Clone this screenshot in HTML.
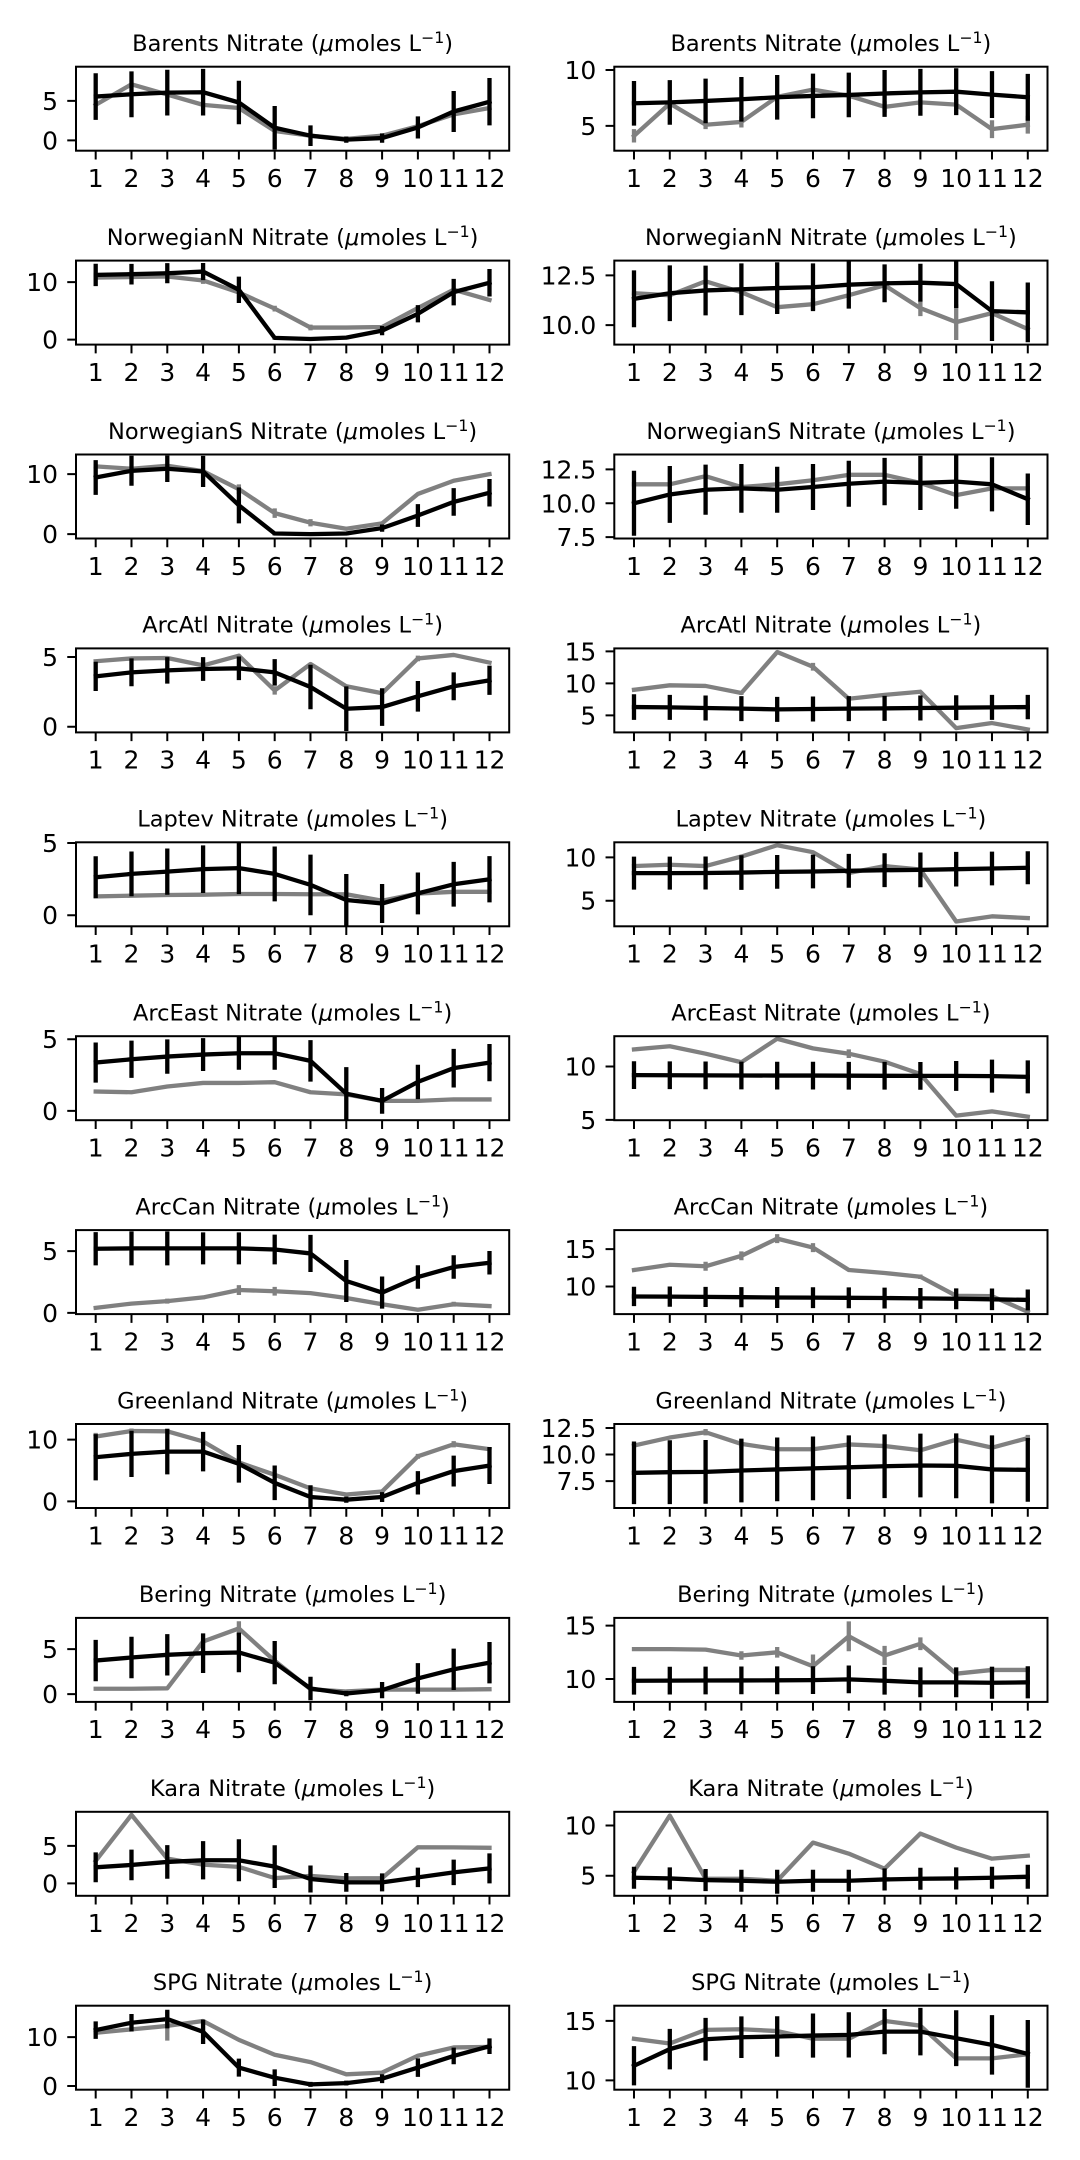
<!DOCTYPE html>
<html><head><meta charset="utf-8"><style>
html,body{margin:0;padding:0;background:#fff}
svg{display:block}
.t{font-family:"DejaVu Sans","Liberation Sans",sans-serif;font-size:25px;fill:#000}
.h{font-family:"DejaVu Sans","Liberation Sans",sans-serif;font-size:22.5px;fill:#000;text-anchor:middle}
.c{text-anchor:middle}.e{text-anchor:end}
.s{font-size:15.75px}
.g,.k,.ge,.ke{fill:none;vector-effect:non-scaling-stroke;stroke-width:4.3}
.g{stroke:#808080;stroke-linejoin:round;stroke-linecap:square}
.k{stroke:#000;stroke-linejoin:round;stroke-linecap:square}
.ge{stroke:#808080;stroke-linecap:butt}
.ke{stroke:#000;stroke-linecap:butt}
.ax{fill:none;stroke:#000;stroke-width:2}
.tk{fill:none;stroke:#000;stroke-width:2}
</style></head><body>
<svg width="1080" height="2160" viewBox="0 0 1080 2160" xmlns="http://www.w3.org/2000/svg">
<rect width="1080" height="2160" fill="#fff"/>
<defs>
<path id="xt" class="tk" d="M95.69 0v8.75M131.49 0v8.75M167.29 0v8.75M203.09 0v8.75M238.89 0v8.75M274.69 0v8.75M310.49 0v8.75M346.29 0v8.75M382.09 0v8.75M417.89 0v8.75M453.69 0v8.75M489.49 0v8.75"/>
</defs>

<!-- ROW 0 Barents -->
<text class="h" x="292.6" y="51">Barents Nitrate (<tspan font-style="italic">μ</tspan>moles L<tspan class="s" dy="-8">−1</tspan><tspan dy="8">)</tspan></text>
<svg x="76" y="66.7" width="433.2" height="84"><g transform="translate(-16.11 73.73) scale(35.8 -7.902)">
<polyline class="g" points="1,4.5 2,7.1 3,5.8 4,4.5 5,4.1 6,1.2 7,0.6 8,0.2 9,0.6 10,1.8 11,3.3 12,4.1"/>
<polyline class="k" points="1,5.55 2,5.84 3,6.05 4,6.1 5,4.8 6,1.6 7,0.6 8,0.1 9,0.3 10,1.64 11,3.66 12,4.9"/>
<path class="ke" d="M1 5.55v2.95m0-2.95v-2.95M2 5.84v2.9m0-2.9v-2.9M3 6.05v2.9m0-2.9v-2.9M4 6.1v2.95m0-2.95v-2.95M5 4.8v2.75m0-2.75v-2.75M6 1.6v2.75m0-2.75v-2.75M7 0.6v1.3m0-1.3v-1.3M8 0.1v0.4m0-0.4v-0.4M9 0.3v0.6m0-0.6v-0.6M10 1.64v1.4m0-1.4v-1.4M11 3.66v2.6m0-2.6v-2.6M12 4.9v3m0-3v-3"/>
</g></svg>
<rect class="ax" x="76" y="66.7" width="433.2" height="84"/>
<use href="#xt" y="150.7"/>
<path class="tk" d="M67.25 140.43h8.75M67.25 100.92h8.75"/>
<text class="t e" x="58" y="149.4">0</text><text class="t e" x="58" y="109.9">5</text>
<text class="t c" y="187"><tspan x="95.69">1</tspan><tspan x="131.49">2</tspan><tspan x="167.29">3</tspan><tspan x="203.09">4</tspan><tspan x="238.89">5</tspan><tspan x="274.69">6</tspan><tspan x="310.49">7</tspan><tspan x="346.29">8</tspan><tspan x="382.09">9</tspan><tspan x="417.89">10</tspan><tspan x="453.69">11</tspan><tspan x="489.49">12</tspan></text>

<text class="h" x="830.9" y="51">Barents Nitrate (<tspan font-style="italic">μ</tspan>moles L<tspan class="s" dy="-8">−1</tspan><tspan dy="8">)</tspan></text>
<svg x="614.3" y="66.7" width="433.2" height="84"><g transform="translate(-16.11 114.9) scale(35.8 -11.155)">
<polyline class="g" points="1,4.1 2,7.0 3,5.1 4,5.35 5,7.6 6,8.25 7,7.7 8,6.7 9,7.1 10,6.9 11,4.7 12,5.1"/>
<polyline class="k" points="1,7.02 2,7.1 3,7.23 4,7.38 5,7.56 6,7.68 7,7.77 8,7.9 9,8.0 10,8.06 11,7.8 12,7.56"/>
<path class="ge" d="M1 4.1v0.6m0-0.6v-0.6M3 5.1v0.4m0-0.4v-0.4M4 5.35v0.5m0-0.5v-0.5M8 6.7v0.5m0-0.5v-0.5M9 7.1v0.3m0-0.3v-0.3M10 6.9v0.5m0-0.5v-0.5M11 4.7v0.8m0-0.8v-0.8M12 5.1v0.8m0-0.8v-0.8"/>
<path class="ke" d="M1 7.02v2m0-2v-2M2 7.1v2m0-2v-2M3 7.23v2m0-2v-2M4 7.38v2m0-2v-2M5 7.56v2m0-2v-2M6 7.68v2m0-2v-2M7 7.77v2m0-2v-2M8 7.9v2.1m0-2.1v-2.1M9 8.0v2.1m0-2.1v-2.1M10 8.06v2.1m0-2.1v-2.1M11 7.8v2.1m0-2.1v-2.1M12 7.56v2.1m0-2.1v-2.1"/>
</g></svg>
<rect class="ax" x="614.3" y="66.7" width="433.2" height="84"/>
<use href="#xt" x="538.3" y="150.7"/>
<path class="tk" d="M605.55 70.05h8.75M605.55 125.83h8.75"/>
<text class="t e" x="596.3" y="79.05">10</text><text class="t e" x="596.3" y="134.83">5</text>
<text class="t c" y="187"><tspan x="634">1</tspan><tspan x="669.8">2</tspan><tspan x="705.6">3</tspan><tspan x="741.4">4</tspan><tspan x="777.2">5</tspan><tspan x="813">6</tspan><tspan x="848.8">7</tspan><tspan x="884.6">8</tspan><tspan x="920.4">9</tspan><tspan x="956.2">10</tspan><tspan x="992">11</tspan><tspan x="1027.8">12</tspan></text>

<!-- ROW 1 NorwegianN -->
<text class="h" x="292.6" y="244.9">NorwegianN Nitrate (<tspan font-style="italic">μ</tspan>moles L<tspan class="s" dy="-8">−1</tspan><tspan dy="8">)</tspan></text>
<svg x="76" y="260.6" width="433.2" height="84"><g transform="translate(-16.11 79.0) scale(35.8 -5.742)">
<polyline class="g" points="1,10.8 2,10.9 3,11.0 4,10.3 5,8.2 6,5.4 7,2.1 8,2.1 9,2.2 10,5.5 11,8.7 12,6.9"/>
<polyline class="k" points="1,11.27 2,11.39 3,11.56 4,11.85 5,8.67 6,0.3 7,0.1 8,0.35 9,1.56 10,4.5 11,8.27 12,9.9"/>
<path class="ge" d="M4 10.3v0.6m0-0.6v-0.6M6 5.4v0.5m0-0.5v-0.5M7 2.1v0.5m0-0.5v-0.5"/>
<path class="ke" d="M1 11.27v1.95m0-1.95v-1.95M2 11.39v1.8m0-1.8v-1.8M3 11.56v1.75m0-1.75v-1.75M4 11.85v1.5m0-1.5v-1.5M5 8.67v2.3m0-2.3v-2.3M6 0.3v0.3m0-0.3v-0.3M7 0.1v0.2m0-0.2v-0.2M8 0.35v0.3m0-0.3v-0.3M9 1.56v0.8m0-0.8v-0.8M10 4.5v1.5m0-1.5v-1.5M11 8.27v2.3m0-2.3v-2.3M12 9.9v2.4m0-2.4v-2.4"/>
</g></svg>
<rect class="ax" x="76" y="260.6" width="433.2" height="84"/>
<use href="#xt" y="344.6"/>
<path class="tk" d="M67.25 339.6h8.75M67.25 282.18h8.75"/>
<text class="t e" x="58" y="348.6">0</text><text class="t e" x="58" y="291.18">10</text>
<text class="t c" y="380.9"><tspan x="95.69">1</tspan><tspan x="131.49">2</tspan><tspan x="167.29">3</tspan><tspan x="203.09">4</tspan><tspan x="238.89">5</tspan><tspan x="274.69">6</tspan><tspan x="310.49">7</tspan><tspan x="346.29">8</tspan><tspan x="382.09">9</tspan><tspan x="417.89">10</tspan><tspan x="453.69">11</tspan><tspan x="489.49">12</tspan></text>

<text class="h" x="830.9" y="244.9">NorwegianN Nitrate (<tspan font-style="italic">μ</tspan>moles L<tspan class="s" dy="-8">−1</tspan><tspan dy="8">)</tspan></text>
<svg x="614.3" y="260.6" width="433.2" height="84"><g transform="translate(-16.11 263.54) scale(35.8 -19.905)">
<polyline class="g" points="1,11.6 2,11.5 3,12.2 4,11.65 5,10.9 6,11.05 7,11.5 8,12.0 9,10.85 10,10.15 11,10.6 12,9.8"/>
<polyline class="k" points="1,11.32 2,11.6 3,11.74 4,11.8 5,11.86 6,11.9 7,12.03 8,12.1 9,12.13 10,12.06 11,10.7 12,10.64"/>
<path class="ge" d="M5 10.9v0.3m0-0.3v-0.3M6 11.05v0.3m0-0.3v-0.3M9 10.85v0.4m0-0.4v-0.4M10 10.15v0.9m0-0.9v-0.9"/>
<path class="ke" d="M1 11.32v1.43m0-1.43v-1.43M2 11.6v1.4m0-1.4v-1.4M3 11.74v1.25m0-1.25v-1.25M4 11.8v1.3m0-1.3v-1.3M5 11.86v1.3m0-1.3v-1.3M6 11.9v1.2m0-1.2v-1.2M7 12.03v1.2m0-1.2v-1.2M8 12.1v0.95m0-0.95v-0.95M9 12.13v0.95m0-0.95v-0.95M10 12.06v1.2m0-1.2v-1.2M11 10.7v1.5m0-1.5v-1.5M12 10.64v1.5m0-1.5v-1.5"/>
</g></svg>
<rect class="ax" x="614.3" y="260.6" width="433.2" height="84"/>
<use href="#xt" x="538.3" y="344.6"/>
<path class="tk" d="M605.55 275.33h8.75M605.55 325.09h8.75"/>
<text class="t e" x="596.3" y="284.33">12.5</text><text class="t e" x="596.3" y="334.09">10.0</text>
<text class="t c" y="380.9"><tspan x="634">1</tspan><tspan x="669.8">2</tspan><tspan x="705.6">3</tspan><tspan x="741.4">4</tspan><tspan x="777.2">5</tspan><tspan x="813">6</tspan><tspan x="848.8">7</tspan><tspan x="884.6">8</tspan><tspan x="920.4">9</tspan><tspan x="956.2">10</tspan><tspan x="992">11</tspan><tspan x="1027.8">12</tspan></text>

<!-- ROW 2 NorwegianS -->
<text class="h" x="292.6" y="438.8">NorwegianS Nitrate (<tspan font-style="italic">μ</tspan>moles L<tspan class="s" dy="-8">−1</tspan><tspan dy="8">)</tspan></text>
<svg x="76" y="454.5" width="433.2" height="84"><g transform="translate(-16.11 79.62) scale(35.8 -5.996)">
<polyline class="g" points="1,11.3 2,10.9 3,11.4 4,10.5 5,7.5 6,3.5 7,1.9 8,0.9 9,1.8 10,6.7 11,8.9 12,10.0"/>
<polyline class="k" points="1,9.44 2,10.56 3,10.9 4,10.45 5,4.8 6,0.1 7,0 8,0.1 9,1.0 10,3.1 11,5.37 12,6.9"/>
<path class="ge" d="M5 7.5v0.8m0-0.8v-0.8M6 3.5v0.8m0-0.8v-0.8M7 1.9v0.6m0-0.6v-0.6"/>
<path class="ke" d="M1 9.44v2.9m0-2.9v-2.9M2 10.56v2.5m0-2.5v-2.5M3 10.9v2.2m0-2.2v-2.2M4 10.45v2.6m0-2.6v-2.6M5 4.8v3m0-3v-3M6 0.1v0.3m0-0.3v-0.3M7 0v0.3m0-0.3v-0.3M8 0.1v0.3m0-0.3v-0.3M9 1.0v0.6m0-0.6v-0.6M10 3.1v1.9m0-1.9v-1.9M11 5.37v2.3m0-2.3v-2.3M12 6.9v2.3m0-2.3v-2.3"/>
</g></svg>
<rect class="ax" x="76" y="454.5" width="433.2" height="84"/>
<use href="#xt" y="538.5"/>
<path class="tk" d="M67.25 534.12h8.75M67.25 474.16h8.75"/>
<text class="t e" x="58" y="543.12">0</text><text class="t e" x="58" y="483.16">10</text>
<text class="t c" y="574.8"><tspan x="95.69">1</tspan><tspan x="131.49">2</tspan><tspan x="167.29">3</tspan><tspan x="203.09">4</tspan><tspan x="238.89">5</tspan><tspan x="274.69">6</tspan><tspan x="310.49">7</tspan><tspan x="346.29">8</tspan><tspan x="382.09">9</tspan><tspan x="417.89">10</tspan><tspan x="453.69">11</tspan><tspan x="489.49">12</tspan></text>

<text class="h" x="830.9" y="438.8">NorwegianS Nitrate (<tspan font-style="italic">μ</tspan>moles L<tspan class="s" dy="-8">−1</tspan><tspan dy="8">)</tspan></text>
<svg x="614.3" y="454.5" width="433.2" height="84"><g transform="translate(-16.11 184.26) scale(35.8 -13.548)">
<polyline class="g" points="1,11.4 2,11.4 3,12.0 4,11.2 5,11.4 6,11.7 7,12.1 8,12.1 9,11.5 10,10.6 11,11.1 12,11.1"/>
<polyline class="k" points="1,10.0 2,10.65 3,11.0 4,11.1 5,11.0 6,11.2 7,11.44 8,11.6 9,11.5 10,11.6 11,11.4 12,10.3"/>
<path class="ke" d="M1 10.0v2.4m0-2.4v-2.4M2 10.65v2.1m0-2.1v-2.1M3 11.0v1.85m0-1.85v-1.85M4 11.1v1.8m0-1.8v-1.8M5 11.0v1.7m0-1.7v-1.7M6 11.2v1.7m0-1.7v-1.7M7 11.44v1.7m0-1.7v-1.7M8 11.6v1.75m0-1.75v-1.75M9 11.5v2m0-2v-2M10 11.6v2m0-2v-2M11 11.4v2m0-2v-2M12 10.3v1.9m0-1.9v-1.9"/>
</g></svg>
<rect class="ax" x="614.3" y="454.5" width="433.2" height="84"/>
<use href="#xt" x="538.3" y="538.5"/>
<path class="tk" d="M605.55 469.41h8.75M605.55 503.28h8.75M605.55 537.15h8.75"/>
<text class="t e" x="596.3" y="478.41">12.5</text><text class="t e" x="596.3" y="512.28">10.0</text><text class="t e" x="596.3" y="546.15">7.5</text>
<text class="t c" y="574.8"><tspan x="634">1</tspan><tspan x="669.8">2</tspan><tspan x="705.6">3</tspan><tspan x="741.4">4</tspan><tspan x="777.2">5</tspan><tspan x="813">6</tspan><tspan x="848.8">7</tspan><tspan x="884.6">8</tspan><tspan x="920.4">9</tspan><tspan x="956.2">10</tspan><tspan x="992">11</tspan><tspan x="1027.8">12</tspan></text>

<!-- ROW 3 ArcAtl -->
<text class="h" x="292.6" y="632.7">ArcAtl Nitrate (<tspan font-style="italic">μ</tspan>moles L<tspan class="s" dy="-8">−1</tspan><tspan dy="8">)</tspan></text>
<svg x="76" y="648.4" width="433.2" height="84"><g transform="translate(-16.11 78.29) scale(35.8 -13.93)">
<polyline class="g" points="1,4.7 2,4.9 3,4.93 4,4.4 5,5.1 6,2.6 7,4.5 8,2.9 9,2.4 10,4.9 11,5.15 12,4.6"/>
<polyline class="k" points="1,3.61 2,3.9 3,4.04 4,4.14 5,4.19 6,3.9 7,2.85 8,1.29 9,1.41 10,2.18 11,2.9 12,3.33"/>
<path class="ge" d="M6 2.6v0.3m0-0.3v-0.3M10 4.9v0.2m0-0.2v-0.2"/>
<path class="ke" d="M1 3.61v1.05m0-1.05v-1.05M2 3.9v1m0-1v-1M3 4.04v0.95m0-0.95v-0.95M4 4.14v0.85m0-0.85v-0.85M5 4.19v0.85m0-0.85v-0.85M6 3.9v0.95m0-0.95v-0.95M7 2.85v1.6m0-1.6v-1.6M8 1.29v1.6m0-1.6v-1.6M9 1.41v1.35m0-1.35v-1.35M10 2.18v1.1m0-1.1v-1.1M11 2.9v1m0-1v-1M12 3.33v1.05m0-1.05v-1.05"/>
</g></svg>
<rect class="ax" x="76" y="648.4" width="433.2" height="84"/>
<use href="#xt" y="732.4"/>
<path class="tk" d="M67.25 726.69h8.75M67.25 657.04h8.75"/>
<text class="t e" x="58" y="735.69">0</text><text class="t e" x="58" y="666.04">5</text>
<text class="t c" y="768.7"><tspan x="95.69">1</tspan><tspan x="131.49">2</tspan><tspan x="167.29">3</tspan><tspan x="203.09">4</tspan><tspan x="238.89">5</tspan><tspan x="274.69">6</tspan><tspan x="310.49">7</tspan><tspan x="346.29">8</tspan><tspan x="382.09">9</tspan><tspan x="417.89">10</tspan><tspan x="453.69">11</tspan><tspan x="489.49">12</tspan></text>

<text class="h" x="830.9" y="632.7">ArcAtl Nitrate (<tspan font-style="italic">μ</tspan>moles L<tspan class="s" dy="-8">−1</tspan><tspan dy="8">)</tspan></text>
<svg x="614.3" y="648.4" width="433.2" height="84"><g transform="translate(-16.11 98.97) scale(35.8 -6.398)">
<polyline class="g" points="1,9.0 2,9.7 3,9.6 4,8.5 5,14.9 6,12.6 7,7.6 8,8.2 9,8.7 10,3.0 11,3.8 12,2.8"/>
<polyline class="k" points="1,6.3 2,6.25 3,6.15 4,6.05 5,5.94 6,6.0 7,6.05 8,6.1 9,6.15 10,6.2 11,6.25 12,6.3"/>
<path class="ge" d="M4 8.5v0.3m0-0.3v-0.3M6 12.6v0.6m0-0.6v-0.6M7 7.6v0.3m0-0.3v-0.3"/>
<path class="ke" d="M1 6.3v2m0-2v-2M2 6.25v1.95m0-1.95v-1.95M3 6.15v1.95m0-1.95v-1.95M4 6.05v1.95m0-1.95v-1.95M5 5.94v1.95m0-1.95v-1.95M6 6.0v1.95m0-1.95v-1.95M7 6.05v1.95m0-1.95v-1.95M8 6.1v1.95m0-1.95v-1.95M9 6.15v1.95m0-1.95v-1.95M10 6.2v1.95m0-1.95v-1.95M11 6.25v1.95m0-1.95v-1.95M12 6.3v1.9m0-1.9v-1.9"/>
</g></svg>
<rect class="ax" x="614.3" y="648.4" width="433.2" height="84"/>
<use href="#xt" x="538.3" y="732.4"/>
<path class="tk" d="M605.55 651.41h8.75M605.55 683.4h8.75M605.55 715.39h8.75"/>
<text class="t e" x="596.3" y="660.41">15</text><text class="t e" x="596.3" y="692.4">10</text><text class="t e" x="596.3" y="724.39">5</text>
<text class="t c" y="768.7"><tspan x="634">1</tspan><tspan x="669.8">2</tspan><tspan x="705.6">3</tspan><tspan x="741.4">4</tspan><tspan x="777.2">5</tspan><tspan x="813">6</tspan><tspan x="848.8">7</tspan><tspan x="884.6">8</tspan><tspan x="920.4">9</tspan><tspan x="956.2">10</tspan><tspan x="992">11</tspan><tspan x="1027.8">12</tspan></text>

<!-- ROW 4 Laptev -->
<text class="h" x="292.6" y="826.6">Laptev Nitrate (<tspan font-style="italic">μ</tspan>moles L<tspan class="s" dy="-8">−1</tspan><tspan dy="8">)</tspan></text>
<svg x="76" y="842.3" width="433.2" height="84"><g transform="translate(-16.11 72.89) scale(35.8 -14.433)">
<polyline class="g" points="1,1.3 2,1.35 3,1.4 4,1.42 5,1.47 6,1.47 7,1.45 8,1.45 9,1.0 10,1.5 11,1.62 12,1.62"/>
<polyline class="k" points="1,2.63 2,2.86 3,3.02 4,3.19 5,3.26 6,2.86 7,2.1 8,1.05 9,0.81 10,1.51 11,2.14 12,2.49"/>
<path class="ke" d="M1 2.63v1.45m0-1.45v-1.45M2 2.86v1.55m0-1.55v-1.55M3 3.02v1.6m0-1.6v-1.6M4 3.19v1.65m0-1.65v-1.65M5 3.26v1.8m0-1.8v-1.8M6 2.86v1.9m0-1.9v-1.9M7 2.1v2.1m0-2.1v-2.1M8 1.05v1.8m0-1.8v-1.8M9 0.81v1.35m0-1.35v-1.35M10 1.51v1.45m0-1.45v-1.45M11 2.14v1.55m0-1.55v-1.55M12 2.49v1.6m0-1.6v-1.6"/>
</g></svg>
<rect class="ax" x="76" y="842.3" width="433.2" height="84"/>
<use href="#xt" y="926.3"/>
<path class="tk" d="M67.25 915.19h8.75M67.25 843.02h8.75"/>
<text class="t e" x="58" y="924.19">0</text><text class="t e" x="58" y="852.02">5</text>
<text class="t c" y="962.6"><tspan x="95.69">1</tspan><tspan x="131.49">2</tspan><tspan x="167.29">3</tspan><tspan x="203.09">4</tspan><tspan x="238.89">5</tspan><tspan x="274.69">6</tspan><tspan x="310.49">7</tspan><tspan x="346.29">8</tspan><tspan x="382.09">9</tspan><tspan x="417.89">10</tspan><tspan x="453.69">11</tspan><tspan x="489.49">12</tspan></text>

<text class="h" x="830.9" y="826.6">Laptev Nitrate (<tspan font-style="italic">μ</tspan>moles L<tspan class="s" dy="-8">−1</tspan><tspan dy="8">)</tspan></text>
<svg x="614.3" y="842.3" width="433.2" height="84"><g transform="translate(-16.11 101.77) scale(35.8 -8.669)">
<polyline class="g" points="1,9.0 2,9.15 3,9.0 4,10.1 5,11.4 6,10.6 7,8.2 8,9.0 9,8.6 10,2.6 11,3.2 12,3.0"/>
<polyline class="k" points="1,8.18 2,8.18 3,8.2 4,8.25 5,8.33 6,8.37 7,8.45 8,8.52 9,8.56 10,8.64 11,8.72 12,8.8"/>
<path class="ke" d="M1 8.18v1.9m0-1.9v-1.9M2 8.18v1.9m0-1.9v-1.9M3 8.2v1.9m0-1.9v-1.9M4 8.25v2m0-2v-2M5 8.33v1.95m0-1.95v-1.95M6 8.37v1.95m0-1.95v-1.95M7 8.45v1.95m0-1.95v-1.95M8 8.52v1.95m0-1.95v-1.95M9 8.56v2m0-2v-2M10 8.64v2m0-2v-2M11 8.72v1.95m0-1.95v-1.95M12 8.8v1.9m0-1.9v-1.9"/>
</g></svg>
<rect class="ax" x="614.3" y="842.3" width="433.2" height="84"/>
<use href="#xt" x="538.3" y="926.3"/>
<path class="tk" d="M605.55 857.38h8.75M605.55 900.72h8.75"/>
<text class="t e" x="596.3" y="866.38">10</text><text class="t e" x="596.3" y="909.72">5</text>
<text class="t c" y="962.6"><tspan x="634">1</tspan><tspan x="669.8">2</tspan><tspan x="705.6">3</tspan><tspan x="741.4">4</tspan><tspan x="777.2">5</tspan><tspan x="813">6</tspan><tspan x="848.8">7</tspan><tspan x="884.6">8</tspan><tspan x="920.4">9</tspan><tspan x="956.2">10</tspan><tspan x="992">11</tspan><tspan x="1027.8">12</tspan></text>

<!-- ROW 5 ArcEast -->
<text class="h" x="292.6" y="1020.5">ArcEast Nitrate (<tspan font-style="italic">μ</tspan>moles L<tspan class="s" dy="-8">−1</tspan><tspan dy="8">)</tspan></text>
<svg x="76" y="1036.2" width="433.2" height="84"><g transform="translate(-16.11 74.68) scale(35.8 -14.334)">
<polyline class="g" points="1,1.35 2,1.3 3,1.7 4,1.95 5,1.95 6,2.0 7,1.3 8,1.15 9,0.7 10,0.7 11,0.8 12,0.8"/>
<polyline class="k" points="1,3.37 2,3.6 3,3.79 4,3.93 5,4.02 6,4.02 7,3.49 8,1.2 9,0.7 10,2.02 11,2.98 12,3.37"/>
<path class="ke" d="M1 3.37v1.4m0-1.4v-1.4M2 3.6v1.3m0-1.3v-1.3M3 3.79v1.2m0-1.2v-1.2M4 3.93v1.15m0-1.15v-1.15M5 4.02v1.15m0-1.15v-1.15M6 4.02v1.15m0-1.15v-1.15M7 3.49v1.45m0-1.45v-1.45M8 1.2v1.85m0-1.85v-1.85M9 0.7v0.9m0-0.9v-0.9M10 2.02v1.2m0-1.2v-1.2M11 2.98v1.35m0-1.35v-1.35M12 3.37v1.3m0-1.3v-1.3"/>
</g></svg>
<rect class="ax" x="76" y="1036.2" width="433.2" height="84"/>
<use href="#xt" y="1120.2"/>
<path class="tk" d="M67.25 1110.88h8.75M67.25 1039.21h8.75"/>
<text class="t e" x="58" y="1119.88">0</text><text class="t e" x="58" y="1048.21">5</text>
<text class="t c" y="1156.5"><tspan x="95.69">1</tspan><tspan x="131.49">2</tspan><tspan x="167.29">3</tspan><tspan x="203.09">4</tspan><tspan x="238.89">5</tspan><tspan x="274.69">6</tspan><tspan x="310.49">7</tspan><tspan x="346.29">8</tspan><tspan x="382.09">9</tspan><tspan x="417.89">10</tspan><tspan x="453.69">11</tspan><tspan x="489.49">12</tspan></text>

<text class="h" x="830.9" y="1020.5">ArcEast Nitrate (<tspan font-style="italic">μ</tspan>moles L<tspan class="s" dy="-8">−1</tspan><tspan dy="8">)</tspan></text>
<svg x="614.3" y="1036.2" width="433.2" height="84"><g transform="translate(-16.11 137.04) scale(35.8 -10.673)">
<polyline class="g" points="1,11.6 2,11.9 3,11.2 4,10.4 5,12.6 6,11.7 7,11.2 8,10.45 9,9.3 10,5.4 11,5.8 12,5.3"/>
<polyline class="k" points="1,9.19 2,9.18 3,9.17 4,9.16 5,9.15 6,9.15 7,9.14 8,9.13 9,9.12 10,9.12 11,9.1 12,9.03"/>
<path class="ge" d="M7 11.2v0.4m0-0.4v-0.4"/>
<path class="ke" d="M1 9.19v1.3m0-1.3v-1.3M2 9.18v1.3m0-1.3v-1.3M3 9.17v1.3m0-1.3v-1.3M4 9.16v1.3m0-1.3v-1.3M5 9.15v1.3m0-1.3v-1.3M6 9.15v1.3m0-1.3v-1.3M7 9.14v1.3m0-1.3v-1.3M8 9.13v1.3m0-1.3v-1.3M9 9.12v1.3m0-1.3v-1.3M10 9.12v1.4m0-1.4v-1.4M11 9.1v1.55m0-1.55v-1.55M12 9.03v1.55m0-1.55v-1.55"/>
</g></svg>
<rect class="ax" x="614.3" y="1036.2" width="433.2" height="84"/>
<use href="#xt" x="538.3" y="1120.2"/>
<path class="tk" d="M605.55 1066.51h8.75M605.55 1119.88h8.75"/>
<text class="t e" x="596.3" y="1075.51">10</text><text class="t e" x="596.3" y="1128.88">5</text>
<text class="t c" y="1156.5"><tspan x="634">1</tspan><tspan x="669.8">2</tspan><tspan x="705.6">3</tspan><tspan x="741.4">4</tspan><tspan x="777.2">5</tspan><tspan x="813">6</tspan><tspan x="848.8">7</tspan><tspan x="884.6">8</tspan><tspan x="920.4">9</tspan><tspan x="956.2">10</tspan><tspan x="992">11</tspan><tspan x="1027.8">12</tspan></text>

<!-- ROW 6 ArcCan -->
<text class="h" x="292.6" y="1214.4">ArcCan Nitrate (<tspan font-style="italic">μ</tspan>moles L<tspan class="s" dy="-8">−1</tspan><tspan dy="8">)</tspan></text>
<svg x="76" y="1230.1" width="433.2" height="84"><g transform="translate(-16.11 82.76) scale(35.8 -12.353)">
<polyline class="g" points="1,0.4 2,0.75 3,0.95 4,1.25 5,1.85 6,1.75 7,1.6 8,1.2 9,0.7 10,0.25 11,0.7 12,0.55"/>
<polyline class="k" points="1,5.19 2,5.22 3,5.22 4,5.22 5,5.22 6,5.13 7,4.81 8,2.58 9,1.64 10,2.9 11,3.71 12,4.06"/>
<path class="ge" d="M3 0.95v0.2m0-0.2v-0.2M4 1.25v0.15m0-0.15v-0.15M5 1.85v0.4m0-0.4v-0.4M6 1.75v0.35m0-0.35v-0.35M11 0.7v0.2m0-0.2v-0.2"/>
<path class="ke" d="M1 5.19v1.35m0-1.35v-1.35M2 5.22v1.38m0-1.38v-1.38M3 5.22v1.38m0-1.38v-1.38M4 5.22v1.3m0-1.3v-1.3M5 5.22v1.3m0-1.3v-1.3M6 5.13v1.2m0-1.2v-1.2M7 4.81v1.5m0-1.5v-1.5M8 2.58v1.7m0-1.7v-1.7M9 1.64v1.3m0-1.3v-1.3M10 2.9v0.95m0-0.95v-0.95M11 3.71v0.95m0-0.95v-0.95M12 4.06v0.95m0-0.95v-0.95"/>
</g></svg>
<rect class="ax" x="76" y="1230.1" width="433.2" height="84"/>
<use href="#xt" y="1314.1"/>
<path class="tk" d="M67.25 1312.86h8.75M67.25 1251.09h8.75"/>
<text class="t e" x="58" y="1321.86">0</text><text class="t e" x="58" y="1260.09">5</text>
<text class="t c" y="1350.4"><tspan x="95.69">1</tspan><tspan x="131.49">2</tspan><tspan x="167.29">3</tspan><tspan x="203.09">4</tspan><tspan x="238.89">5</tspan><tspan x="274.69">6</tspan><tspan x="310.49">7</tspan><tspan x="346.29">8</tspan><tspan x="382.09">9</tspan><tspan x="417.89">10</tspan><tspan x="453.69">11</tspan><tspan x="489.49">12</tspan></text>

<text class="h" x="830.9" y="1214.4">ArcCan Nitrate (<tspan font-style="italic">μ</tspan>moles L<tspan class="s" dy="-8">−1</tspan><tspan dy="8">)</tspan></text>
<svg x="614.3" y="1230.1" width="433.2" height="84"><g transform="translate(-16.11 131.08) scale(35.8 -7.473)">
<polyline class="g" points="1,12.2 2,12.9 3,12.7 4,14.1 5,16.4 6,15.2 7,12.2 8,11.8 9,11.3 10,8.75 11,8.7 12,6.6"/>
<polyline class="k" points="1,8.66 2,8.64 3,8.6 4,8.56 5,8.52 6,8.5 7,8.48 8,8.45 9,8.4 10,8.35 11,8.28 12,8.2"/>
<path class="ge" d="M3 12.7v0.6m0-0.6v-0.6M4 14.1v0.6m0-0.6v-0.6M5 16.4v0.6m0-0.6v-0.6M6 15.2v0.6m0-0.6v-0.6M9 11.3v0.3m0-0.3v-0.3M11 8.7v0.5m0-0.5v-0.5"/>
<path class="ke" d="M1 8.66v1.3m0-1.3v-1.3M2 8.64v1.35m0-1.35v-1.35M3 8.6v1.35m0-1.35v-1.35M4 8.56v1.35m0-1.35v-1.35M5 8.52v1.4m0-1.4v-1.4M6 8.5v1.4m0-1.4v-1.4M7 8.48v1.4m0-1.4v-1.4M8 8.45v1.4m0-1.4v-1.4M9 8.4v1.4m0-1.4v-1.4M10 8.35v1.4m0-1.4v-1.4M11 8.28v1.45m0-1.45v-1.45M12 8.2v1.4m0-1.4v-1.4"/>
</g></svg>
<rect class="ax" x="614.3" y="1230.1" width="433.2" height="84"/>
<use href="#xt" x="538.3" y="1314.1"/>
<path class="tk" d="M605.55 1249.08h8.75M605.55 1286.45h8.75"/>
<text class="t e" x="596.3" y="1258.08">15</text><text class="t e" x="596.3" y="1295.45">10</text>
<text class="t c" y="1350.4"><tspan x="634">1</tspan><tspan x="669.8">2</tspan><tspan x="705.6">3</tspan><tspan x="741.4">4</tspan><tspan x="777.2">5</tspan><tspan x="813">6</tspan><tspan x="848.8">7</tspan><tspan x="884.6">8</tspan><tspan x="920.4">9</tspan><tspan x="956.2">10</tspan><tspan x="992">11</tspan><tspan x="1027.8">12</tspan></text>

<!-- ROW 7 Greenland -->
<text class="h" x="292.6" y="1408.3">Greenland Nitrate (<tspan font-style="italic">μ</tspan>moles L<tspan class="s" dy="-8">−1</tspan><tspan dy="8">)</tspan></text>
<svg x="76" y="1424" width="433.2" height="84"><g transform="translate(-16.11 77.34) scale(35.8 -6.172)">
<polyline class="g" points="1,10.5 2,11.4 3,11.35 4,9.7 5,6.3 6,4.3 7,2.1 8,1.1 9,1.6 10,7.3 11,9.25 12,8.45"/>
<polyline class="k" points="1,7.15 2,7.69 3,8.06 4,8.06 5,6.08 6,3.0 7,0.7 8,0.27 9,0.7 10,3.0 11,4.9 12,5.8"/>
<path class="ge" d="M1 10.5v0.6m0-0.6v-0.6M2 11.4v0.4m0-0.4v-0.4M3 11.35v0.4m0-0.4v-0.4M10 7.3v0.4m0-0.4v-0.4M11 9.25v0.5m0-0.5v-0.5"/>
<path class="ke" d="M1 7.15v3.75m0-3.75v-3.75M2 7.69v3.75m0-3.75v-3.75M3 8.06v3.7m0-3.7v-3.7M4 8.06v3.2m0-3.2v-3.2M5 6.08v3.05m0-3.05v-3.05M6 3.0v2.8m0-2.8v-2.8M7 0.7v1.9m0-1.9v-1.9M8 0.27v0.5m0-0.5v-0.5M9 0.7v0.8m0-0.8v-0.8M10 3.0v1.9m0-1.9v-1.9M11 4.9v2.5m0-2.5v-2.5M12 5.8v3m0-3v-3"/>
</g></svg>
<rect class="ax" x="76" y="1424" width="433.2" height="84"/>
<use href="#xt" y="1508"/>
<path class="tk" d="M67.25 1501.34h8.75M67.25 1439.62h8.75"/>
<text class="t e" x="58" y="1510.34">0</text><text class="t e" x="58" y="1448.62">10</text>
<text class="t c" y="1544.3"><tspan x="95.69">1</tspan><tspan x="131.49">2</tspan><tspan x="167.29">3</tspan><tspan x="203.09">4</tspan><tspan x="238.89">5</tspan><tspan x="274.69">6</tspan><tspan x="310.49">7</tspan><tspan x="346.29">8</tspan><tspan x="382.09">9</tspan><tspan x="417.89">10</tspan><tspan x="453.69">11</tspan><tspan x="489.49">12</tspan></text>

<text class="h" x="830.9" y="1408.3">Greenland Nitrate (<tspan font-style="italic">μ</tspan>moles L<tspan class="s" dy="-8">−1</tspan><tspan dy="8">)</tspan></text>
<svg x="614.3" y="1424" width="433.2" height="84"><g transform="translate(-16.11 136.81) scale(35.8 -10.626)">
<polyline class="g" points="1,10.85 2,11.6 3,12.1 4,11.0 5,10.5 6,10.5 7,10.95 8,10.8 9,10.4 10,11.4 11,10.65 12,11.55"/>
<polyline class="k" points="1,8.28 2,8.34 3,8.37 4,8.5 5,8.6 6,8.7 7,8.8 8,8.9 9,8.97 10,8.94 11,8.6 12,8.56"/>
<path class="ge" d="M3 12.1v0.3m0-0.3v-0.3M4 11.0v0.4m0-0.4v-0.4M10 11.4v0.3m0-0.3v-0.3M12 11.55v0.3m0-0.3v-0.3"/>
<path class="ke" d="M1 8.28v2.95m0-2.95v-2.95M2 8.34v3m0-3v-3M3 8.37v3m0-3v-3M4 8.5v3m0-3v-3M5 8.6v3m0-3v-3M6 8.7v3m0-3v-3M7 8.8v3m0-3v-3M8 8.9v3m0-3v-3M9 8.97v3m0-3v-3M10 8.94v3.05m0-3.05v-3.05M11 8.6v3.2m0-3.2v-3.2M12 8.56v3m0-3v-3"/>
</g></svg>
<rect class="ax" x="614.3" y="1424" width="433.2" height="84"/>
<use href="#xt" x="538.3" y="1508"/>
<path class="tk" d="M605.55 1427.98h8.75M605.55 1454.55h8.75M605.55 1481.12h8.75"/>
<text class="t e" x="596.3" y="1436.98">12.5</text><text class="t e" x="596.3" y="1463.55">10.0</text><text class="t e" x="596.3" y="1490.12">7.5</text>
<text class="t c" y="1544.3"><tspan x="634">1</tspan><tspan x="669.8">2</tspan><tspan x="705.6">3</tspan><tspan x="741.4">4</tspan><tspan x="777.2">5</tspan><tspan x="813">6</tspan><tspan x="848.8">7</tspan><tspan x="884.6">8</tspan><tspan x="920.4">9</tspan><tspan x="956.2">10</tspan><tspan x="992">11</tspan><tspan x="1027.8">12</tspan></text>

<!-- ROW 8 Bering -->
<text class="h" x="292.6" y="1602.2">Bering Nitrate (<tspan font-style="italic">μ</tspan>moles L<tspan class="s" dy="-8">−1</tspan><tspan dy="8">)</tspan></text>
<svg x="76" y="1617.9" width="433.2" height="84"><g transform="translate(-16.11 76.26) scale(35.8 -9.003)">
<polyline class="g" points="1,0.6 2,0.6 3,0.65 4,5.85 5,7.3 6,3.7 7,0.55 8,0.3 9,0.5 10,0.5 11,0.5 12,0.55"/>
<polyline class="k" points="1,3.73 2,4.07 3,4.37 4,4.55 5,4.63 6,3.5 7,0.63 8,0.07 9,0.45 10,1.75 11,2.76 12,3.5"/>
<path class="ge" d="M4 5.85v0.3m0-0.3v-0.3M5 7.3v0.8m0-0.8v-0.8M6 3.7v0.3m0-0.3v-0.3"/>
<path class="ke" d="M1 3.73v2.3m0-2.3v-2.3M2 4.07v2.3m0-2.3v-2.3M3 4.37v2.3m0-2.3v-2.3M4 4.55v2.2m0-2.2v-2.2M5 4.63v2.2m0-2.2v-2.2M6 3.5v2.4m0-2.4v-2.4M7 0.63v1.3m0-1.3v-1.3M8 0.07v0.3m0-0.3v-0.3M9 0.45v0.9m0-0.9v-0.9M10 1.75v1.7m0-1.7v-1.7M11 2.76v2.3m0-2.3v-2.3M12 3.5v2.3m0-2.3v-2.3"/>
</g></svg>
<rect class="ax" x="76" y="1617.9" width="433.2" height="84"/>
<use href="#xt" y="1701.9"/>
<path class="tk" d="M67.25 1694.16h8.75M67.25 1649.14h8.75"/>
<text class="t e" x="58" y="1703.16">0</text><text class="t e" x="58" y="1658.14">5</text>
<text class="t c" y="1738.2"><tspan x="95.69">1</tspan><tspan x="131.49">2</tspan><tspan x="167.29">3</tspan><tspan x="203.09">4</tspan><tspan x="238.89">5</tspan><tspan x="274.69">6</tspan><tspan x="310.49">7</tspan><tspan x="346.29">8</tspan><tspan x="382.09">9</tspan><tspan x="417.89">10</tspan><tspan x="453.69">11</tspan><tspan x="489.49">12</tspan></text>

<text class="h" x="830.9" y="1602.2">Bering Nitrate (<tspan font-style="italic">μ</tspan>moles L<tspan class="s" dy="-8">−1</tspan><tspan dy="8">)</tspan></text>
<svg x="614.3" y="1617.9" width="433.2" height="84"><g transform="translate(-16.11 168.0) scale(35.8 -10.687)">
<polyline class="g" points="1,12.8 2,12.8 3,12.75 4,12.2 5,12.5 6,11.2 7,14.0 8,12.2 9,13.3 10,10.5 11,10.85 12,10.85"/>
<polyline class="k" points="1,9.84 2,9.85 3,9.86 4,9.87 5,9.88 6,9.9 7,9.97 8,9.84 9,9.69 10,9.69 11,9.65 12,9.69"/>
<path class="ge" d="M4 12.2v0.4m0-0.4v-0.4M5 12.5v0.5m0-0.5v-0.5M6 11.2v1.1m0-1.1v-1.1M7 14.0v1.4m0-1.4v-1.4M8 12.2v0.9m0-0.9v-0.9M9 13.3v0.6m0-0.6v-0.6M11 10.85v0.3m0-0.3v-0.3"/>
<path class="ke" d="M1 9.84v1.3m0-1.3v-1.3M2 9.85v1.3m0-1.3v-1.3M3 9.86v1.3m0-1.3v-1.3M4 9.87v1.3m0-1.3v-1.3M5 9.88v1.3m0-1.3v-1.3M6 9.9v1.3m0-1.3v-1.3M7 9.97v1.3m0-1.3v-1.3M8 9.84v1.3m0-1.3v-1.3M9 9.69v1.4m0-1.4v-1.4M10 9.69v1.4m0-1.4v-1.4M11 9.65v1.5m0-1.5v-1.5M12 9.69v1.5m0-1.5v-1.5"/>
</g></svg>
<rect class="ax" x="614.3" y="1617.9" width="433.2" height="84"/>
<use href="#xt" x="538.3" y="1701.9"/>
<path class="tk" d="M605.55 1625.59h8.75M605.55 1679.03h8.75"/>
<text class="t e" x="596.3" y="1634.59">15</text><text class="t e" x="596.3" y="1688.03">10</text>
<text class="t c" y="1738.2"><tspan x="634">1</tspan><tspan x="669.8">2</tspan><tspan x="705.6">3</tspan><tspan x="741.4">4</tspan><tspan x="777.2">5</tspan><tspan x="813">6</tspan><tspan x="848.8">7</tspan><tspan x="884.6">8</tspan><tspan x="920.4">9</tspan><tspan x="956.2">10</tspan><tspan x="992">11</tspan><tspan x="1027.8">12</tspan></text>

<!-- ROW 9 Kara -->
<text class="h" x="292.6" y="1796.1">Kara Nitrate (<tspan font-style="italic">μ</tspan>moles L<tspan class="s" dy="-8">−1</tspan><tspan dy="8">)</tspan></text>
<svg x="76" y="1811.8" width="433.2" height="84"><g transform="translate(-16.11 71.56) scale(35.8 -7.493)">
<polyline class="g" points="1,3.0 2,9.14 3,3.3 4,2.5 5,2.2 6,0.7 7,1.0 8,0.67 9,0.7 10,4.82 11,4.8 12,4.75"/>
<polyline class="k" points="1,2.14 2,2.46 3,2.86 4,3.08 5,3.08 6,2.23 7,0.58 8,0.13 9,0.13 10,0.8 11,1.47 12,2.0"/>
<path class="ke" d="M1 2.14v2m0-2v-2M2 2.46v2.05m0-2.05v-2.05M3 2.86v2.25m0-2.25v-2.25M4 3.08v2.55m0-2.55v-2.55M5 3.08v2.8m0-2.8v-2.8M6 2.23v2.85m0-2.85v-2.85M7 0.58v1.8m0-1.8v-1.8M8 0.13v1.25m0-1.25v-1.25M9 0.13v1.2m0-1.2v-1.2M10 0.8v1.3m0-1.3v-1.3M11 1.47v1.7m0-1.7v-1.7M12 2.0v2m0-2v-2"/>
</g></svg>
<rect class="ax" x="76" y="1811.8" width="433.2" height="84"/>
<use href="#xt" y="1895.8"/>
<path class="tk" d="M67.25 1883.36h8.75M67.25 1845.89h8.75"/>
<text class="t e" x="58" y="1892.36">0</text><text class="t e" x="58" y="1854.89">5</text>
<text class="t c" y="1932.1"><tspan x="95.69">1</tspan><tspan x="131.49">2</tspan><tspan x="167.29">3</tspan><tspan x="203.09">4</tspan><tspan x="238.89">5</tspan><tspan x="274.69">6</tspan><tspan x="310.49">7</tspan><tspan x="346.29">8</tspan><tspan x="382.09">9</tspan><tspan x="417.89">10</tspan><tspan x="453.69">11</tspan><tspan x="489.49">12</tspan></text>

<text class="h" x="830.9" y="1796.1">Kara Nitrate (<tspan font-style="italic">μ</tspan>moles L<tspan class="s" dy="-8">−1</tspan><tspan dy="8">)</tspan></text>
<svg x="614.3" y="1811.8" width="433.2" height="84"><g transform="translate(-16.11 114.11) scale(35.8 -10.036)">
<polyline class="g" points="1,5.4 2,11.0 3,4.7 4,4.7 5,4.5 6,8.3 7,7.2 8,5.7 9,9.2 10,7.8 11,6.7 12,7.0"/>
<polyline class="k" points="1,4.8 2,4.73 3,4.57 4,4.5 5,4.4 6,4.5 7,4.5 8,4.63 9,4.7 10,4.73 11,4.8 12,4.9"/>
<path class="ke" d="M1 4.8v1.1m0-1.1v-1.1M2 4.73v1.1m0-1.1v-1.1M3 4.57v1.1m0-1.1v-1.1M4 4.5v1.1m0-1.1v-1.1M5 4.4v1.2m0-1.2v-1.2M6 4.5v1.1m0-1.1v-1.1M7 4.5v1.1m0-1.1v-1.1M8 4.63v1.1m0-1.1v-1.1M9 4.7v1.1m0-1.1v-1.1M10 4.73v1.1m0-1.1v-1.1M11 4.8v1.1m0-1.1v-1.1M12 4.9v1.2m0-1.2v-1.2"/>
</g></svg>
<rect class="ax" x="614.3" y="1811.8" width="433.2" height="84"/>
<use href="#xt" x="538.3" y="1895.8"/>
<path class="tk" d="M605.55 1825.55h8.75M605.55 1875.73h8.75"/>
<text class="t e" x="596.3" y="1834.55">10</text><text class="t e" x="596.3" y="1884.73">5</text>
<text class="t c" y="1932.1"><tspan x="634">1</tspan><tspan x="669.8">2</tspan><tspan x="705.6">3</tspan><tspan x="741.4">4</tspan><tspan x="777.2">5</tspan><tspan x="813">6</tspan><tspan x="848.8">7</tspan><tspan x="884.6">8</tspan><tspan x="920.4">9</tspan><tspan x="956.2">10</tspan><tspan x="992">11</tspan><tspan x="1027.8">12</tspan></text>

<!-- ROW 10 SPG -->
<text class="h" x="292.6" y="1990">SPG Nitrate (<tspan font-style="italic">μ</tspan>moles L<tspan class="s" dy="-8">−1</tspan><tspan dy="8">)</tspan></text>
<svg x="76" y="2005.7" width="433.2" height="84"><g transform="translate(-16.11 80.34) scale(35.8 -4.887)">
<polyline class="g" points="1,10.9 2,11.6 3,12.3 4,13.3 5,9.45 6,6.4 7,4.9 8,2.4 9,2.75 10,6.2 11,7.9 12,8.0"/>
<polyline class="k" points="1,11.44 2,12.95 3,13.7 4,11.1 5,3.77 6,1.71 7,0.34 8,0.6 9,1.5 10,3.77 11,6.16 12,8.15"/>
<path class="ge" d="M3 12.3v3m0-3v-3"/>
<path class="ke" d="M1 11.44v1.8m0-1.8v-1.8M2 12.95v1.8m0-1.8v-1.8M3 13.7v1.9m0-1.9v-1.9M4 11.1v2.5m0-2.5v-2.5M5 3.77v1.85m0-1.85v-1.85M6 1.71v1.7m0-1.7v-1.7M7 0.34v0.5m0-0.5v-0.5M8 0.6v0.5m0-0.5v-0.5M9 1.5v0.9m0-0.9v-0.9M10 3.77v1.9m0-1.9v-1.9M11 6.16v1.7m0-1.7v-1.7M12 8.15v1.6m0-1.6v-1.6"/>
</g></svg>
<rect class="ax" x="76" y="2005.7" width="433.2" height="84"/>
<use href="#xt" y="2089.7"/>
<path class="tk" d="M67.25 2086.04h8.75M67.25 2037.17h8.75"/>
<text class="t e" x="58" y="2095.04">0</text><text class="t e" x="58" y="2046.17">10</text>
<text class="t c" y="2126"><tspan x="95.69">1</tspan><tspan x="131.49">2</tspan><tspan x="167.29">3</tspan><tspan x="203.09">4</tspan><tspan x="238.89">5</tspan><tspan x="274.69">6</tspan><tspan x="310.49">7</tspan><tspan x="346.29">8</tspan><tspan x="382.09">9</tspan><tspan x="417.89">10</tspan><tspan x="453.69">11</tspan><tspan x="489.49">12</tspan></text>

<text class="h" x="830.9" y="1990">SPG Nitrate (<tspan font-style="italic">μ</tspan>moles L<tspan class="s" dy="-8">−1</tspan><tspan dy="8">)</tspan></text>
<svg x="614.3" y="2005.7" width="433.2" height="84"><g transform="translate(-16.11 193.7) scale(35.8 -11.898)">
<polyline class="g" points="1,13.5 2,13.1 3,14.25 4,14.3 5,14.15 6,13.5 7,13.5 8,15.0 9,14.6 10,11.85 11,11.85 12,12.2"/>
<polyline class="k" points="1,11.23 2,12.63 3,13.46 4,13.63 5,13.69 6,13.77 7,13.83 8,14.1 9,14.1 10,13.55 11,12.99 12,12.23"/>
<path class="ge" d="M8 15.0v0.3m0-0.3v-0.3M10 11.85v0.6m0-0.6v-0.6"/>
<path class="ke" d="M1 11.23v1.65m0-1.65v-1.65M2 12.63v1.7m0-1.7v-1.7M3 13.46v1.8m0-1.8v-1.8M4 13.63v1.75m0-1.75v-1.75M5 13.69v1.7m0-1.7v-1.7M6 13.77v1.85m0-1.85v-1.85M7 13.83v1.9m0-1.9v-1.9M8 14.1v1.9m0-1.9v-1.9M9 14.1v2m0-2v-2M10 13.55v2.35m0-2.35v-2.35M11 12.99v2.5m0-2.5v-2.5M12 12.23v2.85m0-2.85v-2.85"/>
</g></svg>
<rect class="ax" x="614.3" y="2005.7" width="433.2" height="84"/>
<use href="#xt" x="538.3" y="2089.7"/>
<path class="tk" d="M605.55 2020.93h8.75M605.55 2080.42h8.75"/>
<text class="t e" x="596.3" y="2029.93">15</text><text class="t e" x="596.3" y="2089.42">10</text>
<text class="t c" y="2126"><tspan x="634">1</tspan><tspan x="669.8">2</tspan><tspan x="705.6">3</tspan><tspan x="741.4">4</tspan><tspan x="777.2">5</tspan><tspan x="813">6</tspan><tspan x="848.8">7</tspan><tspan x="884.6">8</tspan><tspan x="920.4">9</tspan><tspan x="956.2">10</tspan><tspan x="992">11</tspan><tspan x="1027.8">12</tspan></text>
</svg>
</body></html>
